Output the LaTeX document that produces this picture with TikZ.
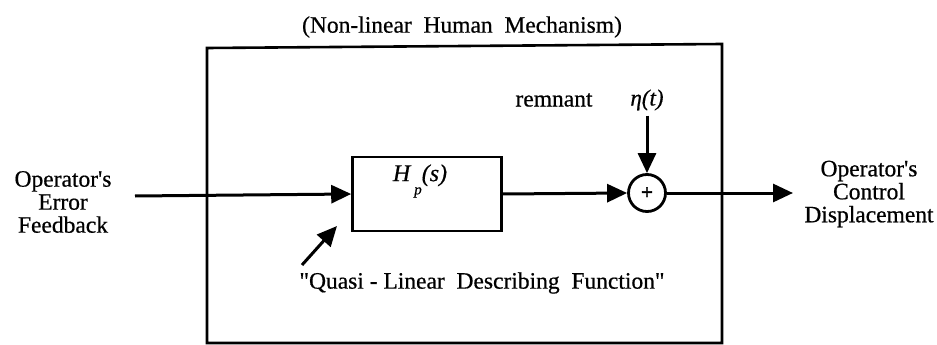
\documentclass[tikz,border=0pt]{standalone}
\usepackage{fontspec}
\setmainfont{Liberation Serif}
\newfontfamily\heavy[FakeBold=0.6]{Liberation Serif}
\newfontfamily\plusfont[FakeBold=2]{Liberation Sans}
\usetikzlibrary{arrows.meta}
\begin{document}
\begin{tikzpicture}[x=1pt,y=-1pt,
  lbl/.style={font=\heavy\fontsize{23.5}{23}\selectfont, align=center, inner sep=0pt},
  arr/.style={line width=3pt, -{Triangle[length=20pt,width=18pt]}},
  thinbox/.style={draw, line width=2.6pt}]
\useasboundingbox (0,0) rectangle (937,345);
\draw[line width=2.6pt] (207,48) -- (722,44) -- (722,343) -- (207,343) -- cycle;
\node[lbl] (title) at (462,27) {(Non-linear\ \ Human\ \ Mechanism)};
\node[thinbox, minimum width=149pt, minimum height=74pt, inner sep=0pt] (hp) at (427,194) {};
\node[font=\heavy\fontsize{24}{24}\selectfont\itshape, inner sep=0pt] (hptext) at (420,181) {H\,\raisebox{-1.2ex}{\fontsize{15}{15}\selectfont p}(s)};
\node[draw, circle, line width=2.8pt, minimum size=37pt, inner sep=0pt, font=\plusfont\fontsize{20}{20}\selectfont] (sum) at (647,193) {+};
\node[lbl] (in) at (63,202) {Operator's\\Error\\Feedback};
\coordinate (instart) at (135,196);
\node[lbl] (out) at (869,194) {Operator's\\Control\\Displacement};
\coordinate (outend) at (793,193);
\node[lbl] (rem) at (554,100) {remnant};
\node[lbl, font=\heavy\fontsize{23}{23}\selectfont\itshape] (eta) at (647,100) {η(t)};
\node[lbl] (quasi) at (482,283) {\textquotedbl Quasi - Linear\ \ Describing\ \ Function\textquotedbl};
\coordinate (ptail) at (302,265);
\coordinate (phead) at (337,226);
\draw[arr] (instart) -- (hp.west);
\draw[arr] (hp.east) -- (sum.west);
\draw[arr] (sum.east) -- (outend);
\draw[arr] (eta.south) ++(0,5) -- (sum.north);
\draw[arr] (ptail) -- (phead);
\end{tikzpicture}
\end{document}
